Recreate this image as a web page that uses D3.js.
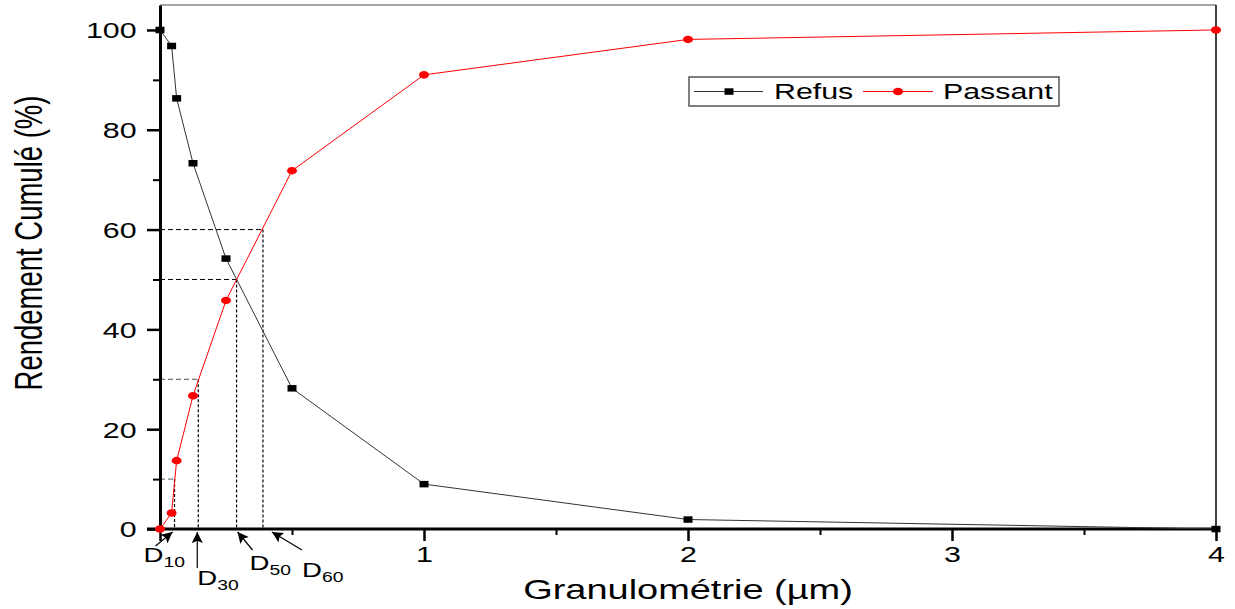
<!DOCTYPE html>
<html>
<head>
<meta charset="utf-8">
<script src="https://cdn.jsdelivr.net/npm/d3@7"></script>
<style>
  body { margin: 0; background: #fff; }
  text { font-family: "Liberation Sans", Arial, sans-serif; fill: #000; }
</style>
</head>
<body>
<div id="chart"></div>
<script>
// sieve sizes and cumulative yields (%)
const sizes = [0, 0.044, 0.063, 0.125, 0.25, 0.5, 1, 2, 4];
const refus = [100, 96.8, 86.3, 73.3, 54.2, 28.2, 9.0, 1.9, 0];
const passant = [0, 3.2, 13.7, 26.7, 45.8, 71.8, 91.0, 98.1, 100];

// characteristic diameters
const dNames = ["10", "30", "50", "60"];
const dLevels = [10, 30, 50, 60];
const dSizes = [0.055, 0.145, 0.29, 0.39];

const yTicks = [0, 20, 40, 60, 80, 100];
const yMinor = [10, 30, 50, 70, 90];
const xTicks = [0, 1, 2, 3, 4];
const xMinor = [0.5, 1.5, 2.5, 3.5];

const W = 1235, H = 609;
const SX = 1.38; // the original export is stretched horizontally

var svg = d3.select("#chart").append("svg")
  .attr("width", W).attr("height", H);

var x = d3.scaleLinear().domain([0, 4]).range([160, 1216]);
var y = d3.scaleLinear().domain([0, 105]).range([529, 5]);

// frame (top + right)
svg.append("line")
  .attr("x1", x(0)).attr("x2", x(4)).attr("y1", y(105)).attr("y2", y(105))
  .attr("stroke", "#888").attr("stroke-width", 1.5);
svg.append("line")
  .attr("x1", x(4)).attr("x2", x(4)).attr("y1", y(105)).attr("y2", y(0))
  .attr("stroke", "#000").attr("stroke-width", 1.5);

// dashed guides for D10..D60
dLevels.forEach(function(L, i) {
  svg.append("line")
    .attr("x1", x(0)).attr("x2", x(dSizes[i]))
    .attr("y1", y(L)).attr("y2", y(L))
    .attr("stroke", L < 40 ? "#555" : "#000").attr("stroke-width", 1)
    .attr("stroke-dasharray", "5,3");
  svg.append("line")
    .attr("x1", x(dSizes[i])).attr("x2", x(dSizes[i]))
    .attr("y1", y(L)).attr("y2", y(0))
    .attr("stroke", "#000").attr("stroke-width", 1.2)
    .attr("stroke-dasharray", "3,2");
});

// Y axis
var yAxis = svg.append("g")
  .attr("transform", "translate(" + x(0) + ",0)")
  .call(d3.axisLeft(y).tickValues(yTicks).tickSize(13).tickSizeOuter(0));
yAxis.select(".domain").attr("stroke-width", 3);
yAxis.selectAll(".tick line").attr("stroke-width", 2.5);
yAxis.selectAll(".tick text")
  .attr("x", -17).attr("dy", "0.36em")
  .attr("transform", "scale(" + SX + ",1)")
  .style("font-size", "22px");
svg.append("g")
  .attr("transform", "translate(" + x(0) + ",0)")
  .call(d3.axisLeft(y).tickValues(yMinor).tickSize(7).tickFormat(""))
  .call(g => g.select(".domain").remove())
  .selectAll(".tick line").attr("stroke-width", 2);

// X axis
var xAxis = svg.append("g")
  .attr("transform", "translate(0," + y(0) + ")")
  .call(d3.axisBottom(x).tickValues(xTicks).tickSize(12).tickSizeOuter(0)
    .tickFormat(d => d === 0 ? "" : d));
xAxis.select(".domain").attr("stroke-width", 3)
  .attr("d", "M" + (x(0) - 13) + ",0H" + x(4));
xAxis.selectAll(".tick line").attr("stroke-width", 2.5);
xAxis.selectAll(".tick text")
  .attr("y", 33).attr("dy", null)
  .attr("transform", "scale(" + SX + ",1)")
  .style("font-size", "22px");
svg.append("g")
  .attr("transform", "translate(0," + y(0) + ")")
  .call(d3.axisBottom(x).tickValues(xMinor).tickSize(6).tickFormat(""))
  .call(g => g.select(".domain").remove())
  .selectAll(".tick line").attr("stroke-width", 2);

// axis titles
svg.append("text")
  .attr("transform", "translate(42,243) scale(" + SX + ",1) rotate(-90)")
  .attr("text-anchor", "middle")
  .style("font-size", "27.5px")
  .text("Rendement Cumulé (%)");
svg.append("text")
  .attr("transform", "translate(688,599) scale(" + SX + ",1)")
  .attr("text-anchor", "middle")
  .style("font-size", "27.5px")
  .text("Granulométrie (µm)");

// series
var refusData = sizes.map((s, i) => ({x: s, y: refus[i]}));
var passData = sizes.map((s, i) => ({x: s, y: passant[i]}));
var line = d3.line().x(d => x(d.x)).y(d => y(d.y));

svg.append("path").datum(refusData)
  .attr("fill", "none").attr("stroke", "#333").attr("stroke-width", 1)
  .attr("d", line);
svg.append("path").datum(passData)
  .attr("fill", "none").attr("stroke", "#ff0000").attr("stroke-width", 1)
  .attr("d", line);

svg.selectAll(".sq").data(refusData).enter().append("rect")
  .attr("x", d => x(d.x) - 4.5).attr("y", d => y(d.y) - 3.2)
  .attr("width", 9).attr("height", 6.5).attr("fill", "#000");
svg.selectAll(".dot").data(passData).enter().append("ellipse")
  .attr("cx", d => x(d.x)).attr("cy", d => y(d.y))
  .attr("rx", 5).attr("ry", 3.8).attr("fill", "#ff0000");

// arrows to the D values
var defs = svg.append("defs");
defs.append("marker")
  .attr("id", "head").attr("viewBox", "0 0 10 10")
  .attr("refX", 10).attr("refY", 5)
  .attr("markerWidth", 14).attr("markerHeight", 11)
  .attr("markerUnits", "userSpaceOnUse")
  .attr("orient", "auto")
  .append("path").attr("d", "M0,0L10,5L0,10L2,5Z").attr("fill", "#000");

// arrow tail / tip offsets and label placement, relative to x(D) and the axis
var arrowLayout = [
  {tx: -2, tail: [-19, 17], lx: -31, ly: 33},
  {tx: -1, tail: [-1, 39], lx: -1, ly: 56},
  {tx: 1, tail: [16, 21], lx: 13, ly: 41},
  {tx: 9, tail: [39, 21], lx: 39, ly: 48}
];
dSizes.forEach(function(ds, i) {
  var a = arrowLayout[i];
  var tipX = x(ds) + a.tx, tipY = y(0) + 3;
  svg.append("line")
    .attr("x1", x(ds) + a.tail[0]).attr("y1", y(0) + a.tail[1])
    .attr("x2", tipX).attr("y2", tipY)
    .attr("stroke", "#000").attr("stroke-width", 1.2)
    .attr("marker-end", "url(#head)");
  var t = svg.append("text")
    .attr("transform", "translate(" + (x(ds) + a.lx) + "," + (y(0) + a.ly) + ") scale(" + SX + ",1)")
    .style("font-size", "20px");
  t.append("tspan").text("D");
  t.append("tspan").attr("dy", 5).style("font-size", "14px").text(dNames[i]);
});

// legend
var leg = svg.append("g").attr("transform", "translate(689,77)");
leg.append("rect").attr("width", 370).attr("height", 29)
  .attr("fill", "#fff").attr("stroke", "#555").attr("stroke-width", 1.5);
leg.append("line").attr("x1", 5).attr("x2", 74).attr("y1", 14.5).attr("y2", 14.5)
  .attr("stroke", "#333").attr("stroke-width", 1);
leg.append("rect").attr("x", 35.5).attr("y", 11.3).attr("width", 9).attr("height", 6.5).attr("fill", "#000");
leg.append("text").attr("transform", "translate(85,22) scale(" + SX + ",1)")
  .style("font-size", "22px").text("Refus");
leg.append("line").attr("x1", 174).attr("x2", 244).attr("y1", 14.5).attr("y2", 14.5)
  .attr("stroke", "#ff0000").attr("stroke-width", 1);
leg.append("ellipse").attr("cx", 209).attr("cy", 14.5).attr("rx", 5).attr("ry", 3.8).attr("fill", "#ff0000");
leg.append("text").attr("transform", "translate(254,22) scale(" + SX + ",1)")
  .style("font-size", "22px").text("Passant");
</script>
</body>
</html>
